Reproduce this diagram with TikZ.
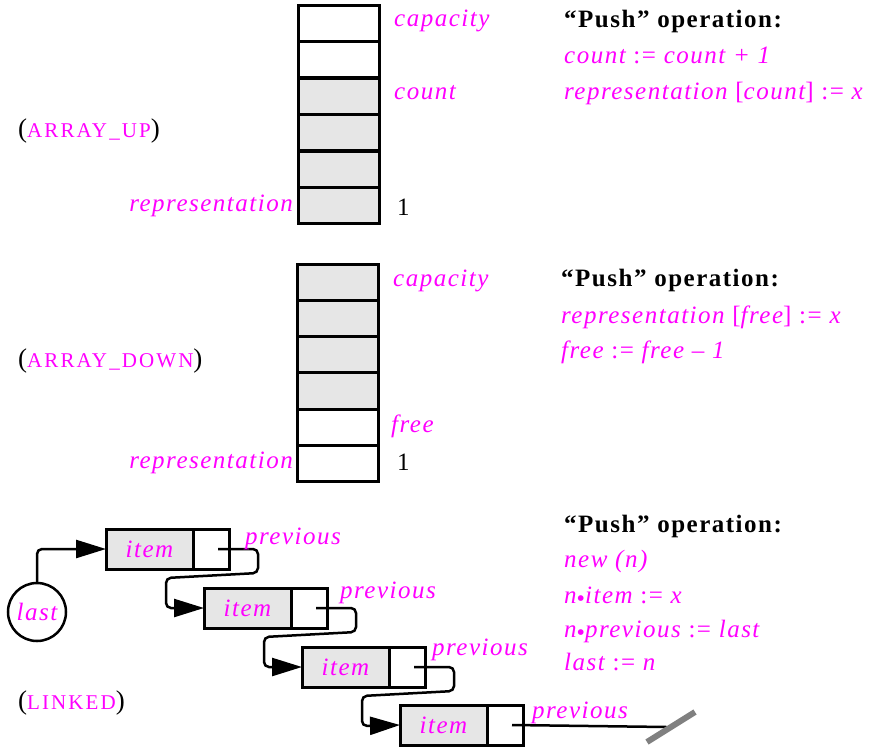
\documentclass[tikz,border=0pt]{standalone}
\usepackage{fontspec}
\setmainfont{Liberation Serif}
\newfontfamily\lsp[LetterSpace=6]{Liberation Serif}
\newfontfamily\scf[LetterSpace=10]{Liberation Serif}
\usetikzlibrary{arrows.meta}
\definecolor{mag}{RGB}{255,0,255}
\definecolor{cellgray}{RGB}{230,230,230}
\newcommand\asg{{\upshape :=}}
\newcommand\dotop{{\fontsize{24}{24}\selectfont\raisebox{-3.5pt}{\upshape •}}}
\newcommand\sclabel[1]{(\textcolor{mag}{\scf\fontsize{21}{24}\selectfont #1})}
\begin{document}
\begin{tikzpicture}[x=1pt,y=-1pt,
  cell/.style={draw,line width=3pt,minimum width=81pt,minimum height=36.4pt,inner sep=0pt,outer sep=0pt,anchor=north west},
  lbl/.style={anchor=base west,inner sep=0pt,text=mag,font=\lsp\itshape\fontsize{25}{30}\selectfont},
  lblr/.style={lbl,anchor=base east},
  op/.style={anchor=base west,inner sep=0pt,font=\lsp\bfseries\fontsize{25}{30}\selectfont},
  num/.style={anchor=base west,inner sep=0pt,font=\fontsize{25}{30}\selectfont},
  title/.style={anchor=base west,inner sep=0pt,font=\fontsize{27}{30}\selectfont},
  itemcell/.style={draw,line width=3pt,fill=cellgray,minimum width=87pt,minimum height=40pt,inner sep=0pt,outer sep=0pt,anchor=north west,text=mag,font=\lsp\itshape\fontsize{25}{30}\selectfont},
  ptrcell/.style={draw,line width=3pt,fill=white,minimum width=36pt,minimum height=40pt,inner sep=0pt,outer sep=0pt,anchor=north west},
  conn/.style={draw,line width=2.5pt,rounded corners=5pt},
  tip/.style={-{Triangle[length=30pt,width=18pt]}}
]
\useasboundingbox (0,0) rectangle (878,748);

% ---------- ARRAY_UP ----------
\foreach \i/\f in {1/white,2/white,3/cellgray,4/cellgray,5/cellgray,6/cellgray}
  \node[cell,fill=\f] (u\i) at (298,{5+36.5*(\i-1)}) {};
\node[lbl] (ucap) at (394,26) {capacity};
\node[lbl] (ucount) at (394,99) {count};
\node[lblr] (urep) at (293,211) {representation};
\node[num] (uone) at (397,215) {1};
\node[title] (tup) at (18,137) {\sclabel{ARRAY\_UP}};
\node[op] (op1) at (564,27) {“Push” operation:};
\node[lbl] (op1a) at (564,63) {count \asg{} count + 1};
\node[lbl] (op1b) at (564,99) {representation {\upshape[}count{\upshape]} \asg{} x};

% ---------- ARRAY_DOWN ----------
\foreach \i/\f in {1/cellgray,2/cellgray,3/cellgray,4/cellgray,5/white,6/white}
  \node[cell,fill=\f] (d\i) at (297,{264+36.3*(\i-1)}) {};
\node[lbl] (dcap) at (393,286) {capacity};
\node[lbl] (dfree) at (391,432) {free};
\node[lblr] (drep) at (293,468) {representation};
\node[num] (done) at (397,470) {1};
\node[title] (tdown) at (18,367) {\sclabel{ARRAY\_DOWN}};
\node[op] (op2) at (561,286) {“Push” operation:};
\node[lbl] (op2a) at (561,323) {representation {\upshape[}free{\upshape]} \asg{} x};
\node[lbl] (op2b) at (561,358) {free \asg{} free – 1};

% ---------- LINKED ----------
\foreach \k/\x/\y in {1/106/529,2/204/588,3/302/647,4/400/705}{
  \node[itemcell] (i\k) at (\x,\y) {item};
  \node[ptrcell] (p\k) at (\x+87,\y) {};
}
\node[circle,draw,line width=2.5pt,minimum size=58pt,inner sep=0pt,text=mag,font=\lsp\itshape\fontsize{25}{30}\selectfont] (last) at (37,612) {last};
\draw[conn,tip] (last.north) |- (i1.west);
\foreach \a/\b in {1/2,2/3,3/4}
  \draw[conn,tip] ([xshift=7pt]p\a.center) -- ++(40,0) -- ++(0,24) -- ++(-92,5) -- ++(0,30) -- (i\b.west);
\coordinate (nil) at (667,727);
\draw[line width=2.5pt] ([xshift=7pt]p4.center) -- (nil);
\coordinate (g1) at (647,742);
\coordinate (g2) at (695,712);
\draw[line width=6pt,color=gray] (g1) -- (g2);
\node[lbl] (pv1) at (245,544) {previous};
\node[lbl] (pv2) at (340,598) {previous};
\node[lbl] (pv3) at (432,655) {previous};
\node[lbl] (pv4) at (532,718) {previous};
\node[title] (tlink) at (18,709) {\sclabel{LINKED}};
\node[op] (op3) at (564,532) {“Push” operation:};
\node[lbl] (op3a) at (564,567) {new (n)};
\node[lbl] (op3b) at (564,603) {n\dotop item \asg{} x};
\node[lbl] (op3c) at (564,637) {n\dotop previous \asg{} last};
\node[lbl] (op3d) at (564,670) {last \asg{} n};
\end{tikzpicture}
\end{document}
